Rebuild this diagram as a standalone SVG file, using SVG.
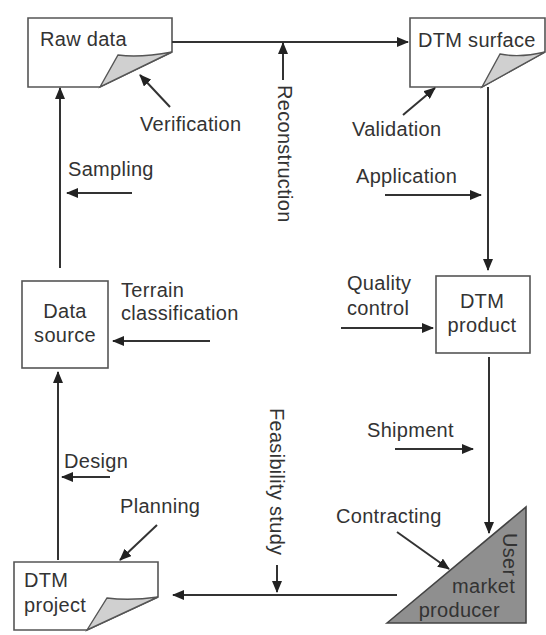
<svg xmlns="http://www.w3.org/2000/svg" width="546" height="635" viewBox="0 0 546 635">
<style>
text{font-family:"Liberation Sans",Arial,sans-serif;font-size:20px;fill:#333;letter-spacing:0.3px}
.box{fill:#fff;stroke:#555;stroke-width:1.6}
.flap{fill:#d0d0d0;stroke:#555;stroke-width:1.4}
.c line{stroke:#333;stroke-width:2;fill:none}
.a{marker-end:url(#ah)}
</style>
<defs>
<marker id="ah" viewBox="0 0 12 10" refX="11" refY="5" markerWidth="12" markerHeight="10" markerUnits="userSpaceOnUse" orient="auto">
<path d="M0,0 L12,5 L0,10 Z" fill="#222"/>
</marker>
</defs>
<rect width="546" height="635" fill="#fff"/>

<g id="raw-data">
<path class="box" d="M28,18 H172 V52 L100,87 H28 Z"/>
<path class="flap" d="M100,87 L118,55 Q140,58 172,52 Z"/>
<text x="40" y="46">Raw data</text>
</g>

<g id="dtm-surface">
<path class="box" d="M410,18 H545 V52 L482,87 H410 Z"/>
<path class="flap" d="M482,87 L500,54 Q520,58 545,52 Z"/>
<text x="418" y="47">DTM surface</text>
</g>

<g id="data-source">
<rect class="box" x="22" y="281" width="86" height="87"/>
<text x="65" y="318" text-anchor="middle">Data</text>
<text x="65" y="342" text-anchor="middle">source</text>
</g>

<g id="dtm-product">
<rect class="box" x="436" y="276" width="94" height="77"/>
<text x="482" y="308" text-anchor="middle">DTM</text>
<text x="482" y="332" text-anchor="middle">product</text>
</g>

<g id="dtm-project">
<path class="box" d="M14,562 H158 V597 L87,630 H14 Z"/>
<path class="flap" d="M87,630 L107,598 Q130,601 158,597 Z"/>
<text x="24" y="587">DTM</text>
<text x="24" y="612">project</text>
</g>

<g id="user-market-producer">
<path d="M387,623 L526,507 V623 Z" fill="#8f8f8f" stroke="#444" stroke-width="1.6"/>
<text transform="translate(503,533) rotate(90)">User</text>
<text x="515" y="593" text-anchor="end">market</text>
<text x="500" y="617" text-anchor="end">producer</text>
</g>

<g id="connectors" class="c">
<line class="a" x1="172" y1="42" x2="408" y2="42"/>
<line class="a" x1="283" y1="80" x2="283" y2="43"/>
<line class="a" x1="170" y1="107" x2="140" y2="75"/>
<line class="a" x1="403" y1="115" x2="435" y2="88"/>
<line class="a" x1="132" y1="193" x2="67" y2="193"/>
<line class="a" x1="60" y1="268" x2="60" y2="88"/>
<line class="a" x1="210" y1="341" x2="113" y2="341"/>
<line class="a" x1="385" y1="195" x2="481" y2="195"/>
<line class="a" x1="488" y1="87" x2="488" y2="270"/>
<line class="a" x1="341" y1="328" x2="433" y2="328"/>
<line class="a" x1="489" y1="357" x2="489" y2="533"/>
<line class="a" x1="395" y1="449" x2="473" y2="449"/>
<line class="a" x1="397" y1="532" x2="449" y2="569"/>
<line class="a" x1="397" y1="595" x2="173" y2="595"/>
<line class="a" x1="277" y1="565" x2="277" y2="592"/>
<line class="a" x1="110" y1="477" x2="62" y2="477"/>
<line class="a" x1="157" y1="525" x2="120" y2="560"/>
<line class="a" x1="58" y1="560" x2="58" y2="372"/>
</g>

<g id="labels">
<text x="140" y="131">Verification</text>
<text x="352" y="136">Validation</text>
<text transform="translate(278,85) rotate(90)">Reconstruction</text>
<text x="68" y="176">Sampling</text>
<text x="356" y="183">Application</text>
<text x="121" y="297">Terrain</text>
<text x="121" y="320">classification</text>
<text x="347" y="290">Quality</text>
<text x="347" y="315">control</text>
<text x="367" y="437">Shipment</text>
<text transform="translate(270,408) rotate(90)">Feasibility study</text>
<text x="64" y="468">Design</text>
<text x="120" y="513">Planning</text>
<text x="336" y="523">Contracting</text>
</g>
</svg>
